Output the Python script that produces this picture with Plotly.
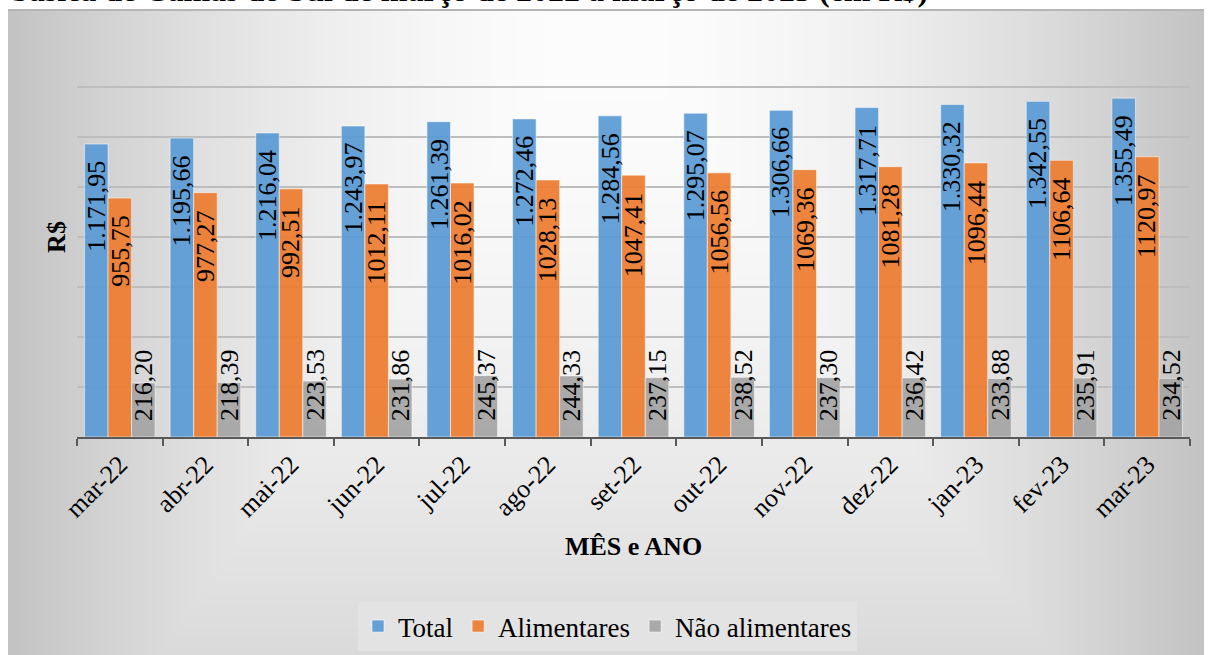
import base64
import struct
import zlib

import numpy as np
import plotly.graph_objects as go

# ---------------- data ----------------
categories = ["mar-22", "abr-22", "mai-22", "jun-22", "jul-22", "ago-22", "set-22",
              "out-22", "nov-22", "dez-22", "jan-23", "fev-23", "mar-23"]
total = [1171.95, 1195.66, 1216.04, 1243.97, 1261.39, 1272.46, 1284.56,
         1295.07, 1306.66, 1317.71, 1330.32, 1342.55, 1355.49]
alimentares = [955.75, 977.27, 992.51, 1012.11, 1016.02, 1028.13, 1047.41,
               1056.56, 1069.36, 1081.28, 1096.44, 1106.64, 1120.97]
nao_alimentares = [216.20, 218.39, 223.53, 231.86, 245.37, 244.33, 237.15,
                   238.52, 237.30, 236.42, 233.88, 235.91, 234.52]
series_names = ["Total", "Alimentares", "Não alimentares"]
title_text = "básica de Camas do Sul de março de 2022 a março de 2023 (em R$)"
x_title = "MÊS e ANO"
y_title = "R$"

# ---------------- style / geometry ----------------
colors = ["#5B9BD5", "#ED7D31", "#A5A5A5"]
FONT = "Liberation Serif"
W, H = 1208, 655
# plot area in pixels
SX0, SX1, SY0, SY1 = 77, 1190, 37, 437
L, R, T, B = SX0, W - SX1, SY0, H - SY1
PW, PH = W - L - R, H - T - B
BARGAP = 0.175


def px_x(sx):
    return (sx - SX0) / PW


def px_y(sy):
    return (SY1 - sy) / PH


def fmt_thousands(v):
    s = f"{v:,.2f}"
    return s.replace(",", "X").replace(".", ",").replace("X", ".")


def fmt_plain(v):
    return f"{v:.2f}".replace(".", ",")


# ---------------- background gradient (chart frame) ----------------
def gradient_png(w, h):
    ys, xs = np.mgrid[0:h, 0:w].astype(float)
    dx = np.abs(xs - (w - 1) / 2) / ((w - 1) / 2)
    dy = ys / (h - 1) * (645 / 860)
    d = np.clip(np.maximum(dx, dy), 0, 1.05)
    img = np.clip(253 - 58 * d ** 1.8, 0, 255).astype(np.uint8)
    raw = b"".join(b"\x00" + img[r].tobytes() for r in range(h))

    def chunk(tag, data):
        c = tag + data
        return struct.pack(">I", len(data)) + c + struct.pack(">I", zlib.crc32(c) & 0xFFFFFFFF)

    png = b"\x89PNG\r\n\x1a\n"
    png += chunk(b"IHDR", struct.pack(">IIBBBBB", w, h, 8, 0, 0, 0, 0))
    png += chunk(b"IDAT", zlib.compress(raw, 9))
    png += chunk(b"IEND", b"")
    return "data:image/png;base64," + base64.b64encode(png).decode()


FX0, FY0, FX1, FY1 = 8, 9, 1204, 655
bg = gradient_png(400, 216)

# ---------------- figure ----------------
fig = go.Figure()
series = [total, alimentares, nao_alimentares]
for name, vals, col in zip(series_names, series, colors):
    fig.add_trace(go.Bar(
        x=categories, y=vals, name=name,
        marker=dict(color=col, line=dict(color="rgba(255,255,255,0.55)", width=1)),
        opacity=0.93,
    ))

cat_w = PW / len(categories)
bar_w = cat_w * (1 - BARGAP) / 3
annotations = []
label_sets = [[fmt_thousands(v) for v in total],
              [fmt_plain(v) for v in alimentares],
              [fmt_plain(v) for v in nao_alimentares]]
for k, (vals, labels) in enumerate(zip(series, label_sets)):
    for c, v, lab in zip(categories, vals, labels):
        if k < 2:
            annotations.append(dict(
                x=c, y=v, xref="x", yref="y", text=lab, showarrow=False,
                textangle=-90, xanchor="center", yanchor="top",
                xshift=(k - 1) * bar_w, yshift=-15,
                font=dict(family=FONT, size=26, color="#000000"),
            ))
        else:
            annotations.append(dict(
                x=c, y=0, xref="x", yref="y", text=lab, showarrow=False,
                textangle=-90, xanchor="center", yanchor="bottom",
                xshift=(k - 1) * bar_w, yshift=14,
                font=dict(family=FONT, size=26, color="#000000"),
            ))

annotations.append(dict(
    x=px_x(9), y=px_y(-10), xref="paper", yref="paper", text=title_text,
    showarrow=False, xanchor="left", yanchor="middle",
    font=dict(family=FONT, size=32, color="#000000", weight="bold"),
))

fig.update_layout(
    width=W, height=H,
    margin=dict(l=L, r=R, t=T, b=B, autoexpand=False),
    paper_bgcolor="#ffffff",
    plot_bgcolor="rgba(0,0,0,0)",
    barmode="group", bargap=BARGAP, bargroupgap=0,
    font=dict(family=FONT, size=26, color="#000000"),
    images=[dict(
        source=bg, xref="paper", yref="paper",
        x=px_x(FX0), y=px_y(FY0), sizex=(FX1 - FX0) / PW, sizey=(FY1 - FY0) / PH,
        xanchor="left", yanchor="top", sizing="stretch", layer="below",
    )],
    shapes=[dict(
        type="line", xref="paper", yref="paper",
        x0=px_x(FX0), x1=px_x(FX1), y0=px_y(FY0 + 1), y1=px_y(FY0 + 1),
        line=dict(color="#b5b5b5", width=2),
    )],
    annotations=annotations,
    legend=dict(
        orientation="h", x=px_x(358), xanchor="left", y=px_y(602), yanchor="top",
        bgcolor="#e3e3e3", font=dict(family=FONT, size=27, color="#000000"),
        itemwidth=30,
    ),
    showlegend=True,
)

fig.update_xaxes(
    type="category", showline=True, linecolor="#595959", linewidth=2,
    ticks="outside", ticklen=7, tickwidth=2, tickcolor="#595959",
    tickson="boundaries", tickangle=-45, showgrid=False,
    tickfont=dict(family=FONT, size=26, color="#000000"),
    title=dict(text=x_title, standoff=14,
               font=dict(family=FONT, size=26, color="#000000", weight="bold")),
)
fig.update_yaxes(
    range=[0, 1600], tick0=0, dtick=200, showgrid=True,
    gridcolor="#bdbdbd", gridwidth=1.5, showticklabels=False, ticks="",
    zeroline=False, showline=False,
    title=dict(text=y_title, standoff=2,
               font=dict(family=FONT, size=26, color="#000000", weight="bold")),
)

fig.write_html(
    "out.html",
    config={"displayModeBar": False},
    post_script="document.body.style.margin='0';document.body.style.overflow='hidden';",
)
